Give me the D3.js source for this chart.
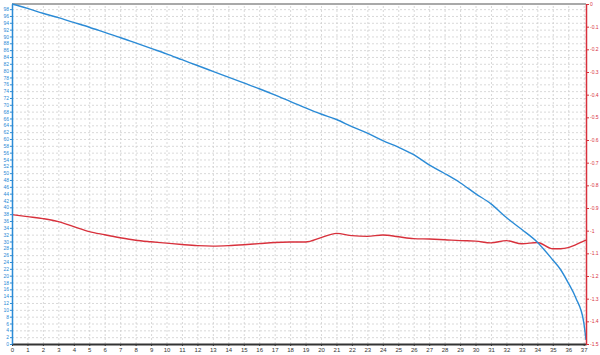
<!DOCTYPE html>
<html>
<head>
<meta charset="utf-8">
<script src="https://cdn.jsdelivr.net/npm/d3@7"></script>
<style>
  body { margin: 0; background: #fff; }
  svg { display: block; font-family: "DejaVu Sans", sans-serif; }
  .grid line { stroke: #cfcfcf; stroke-dasharray: 2,2; stroke-width: 0.8; }
  .grid path { display: none; }
</style>
</head>
<body>
<div id="chart-area"></div>
<script>
// Data
const xs = [0, 1, 2, 3, 4, 5, 6, 7, 8, 9, 10, 11, 12, 13, 14, 15, 16, 17, 18, 19,
  20, 21, 22, 23, 24, 25, 26, 27, 28, 29, 30, 31, 32, 33, 34, 35, 35.5, 36, 36.5, 37, 37.15];

const blueValues = [99.5, 98.2, 96.8, 95.5, 94.1, 92.7, 91.2, 89.7, 88.1, 86.5,
  84.9, 83.2, 81.5, 79.8, 78.1, 76.4, 74.7, 72.9, 71.0, 69.1,
  67.3, 65.7, 63.6, 61.7, 59.5, 57.6, 55.4, 52.4, 49.9, 47.2,
  44.0, 41.0, 37.0, 33.5, 29.8, 24.6, 21.8, 17.9, 13.4, 6.5, 1.2];

const redValues = [-0.929, -0.938, -0.947, -0.960, -0.982, -1.004, -1.018, -1.031, -1.042, -1.049,
  -1.055, -1.061, -1.066, -1.068, -1.066, -1.062, -1.057, -1.052, -1.050, -1.050,
  -1.031, -1.012, -1.022, -1.025, -1.019, -1.027, -1.035, -1.037, -1.040, -1.044,
  -1.046, -1.054, -1.044, -1.058, -1.052, -1.080, -1.080, -1.075, -1.062, -1.046, -1.042];

const xTicks = d3.range(0, 38);
const leftTicks = d3.range(0, 99, 2);
const rightTicks = d3.range(0, 16).map(i => -i / 10);

const margin = { left: 12, right: 14, top: 4, bottom: 11 };
const width = 600 - margin.left - margin.right;
const height = 355 - margin.top - margin.bottom;

const svg = d3.select('#chart-area')
  .append('svg')
    .attr('width', 600)
    .attr('height', 355);

const area = svg.append('g')
  .attr('transform', 'translate(' + margin.left + ',' + margin.top + ')');

const blueColor = '#2b8bd6';
const redColor = '#d8313c';

// Scales
const x = d3.scaleLinear()
  .domain([0, 37.15])
  .range([0, width]);

const yLeft = d3.scaleLinear()
  .domain([0, 99.5])
  .range([height, 0]);

const yRight = d3.scaleLinear()
  .domain([-1.5, 0])
  .range([height, 0]);

// Grid
area.append('g')
  .attr('class', 'grid')
  .attr('transform', 'translate(0,' + height + ')')
  .call(d3.axisBottom(x).tickValues(xTicks.slice(1)).tickSize(-height).tickFormat(''));

area.append('g')
  .attr('class', 'grid')
  .call(d3.axisLeft(yLeft).tickValues(leftTicks.slice(1)).tickSize(-width).tickFormat(''));

// Top border
area.append('line')
  .attr('x1', 0).attr('x2', width)
  .attr('y1', 0).attr('y2', 0)
  .attr('stroke', '#555')
  .attr('stroke-width', 1.2);

// Lines
const blueLine = d3.line()
  .x((d, i) => x(xs[i]))
  .y(d => yLeft(d))
  .curve(d3.curveMonotoneX);

const redLine = d3.line()
  .x((d, i) => x(xs[i]))
  .y(d => yRight(d))
  .curve(d3.curveMonotoneX);

area.append('path')
  .datum(redValues)
  .attr('fill', 'none')
  .attr('stroke', redColor)
  .attr('stroke-width', 1.4)
  .attr('d', redLine);

area.append('path')
  .datum(blueValues)
  .attr('fill', 'none')
  .attr('stroke', blueColor)
  .attr('stroke-width', 1.4)
  .attr('d', blueLine);

// X Axis
const xAxis = area.append('g')
  .attr('transform', 'translate(0,' + height + ')')
  .call(d3.axisBottom(x).tickValues(xTicks).tickSize(2).tickSizeOuter(0).tickPadding(2));
xAxis.select('.domain').attr('stroke', '#333').attr('stroke-width', 2);
xAxis.selectAll('.tick line').attr('stroke', '#333');
xAxis.selectAll('text').attr('font-size', '6px').attr('fill', '#333');

// Left Axis
const leftAxis = area.append('g')
  .call(d3.axisLeft(yLeft).tickValues(leftTicks).tickSize(2).tickSizeOuter(0).tickPadding(1));
leftAxis.select('.domain').attr('stroke', blueColor).attr('stroke-width', 1.5);
leftAxis.selectAll('.tick line').attr('stroke', blueColor);
leftAxis.selectAll('text').attr('font-size', '5px').attr('fill', blueColor);

// Right Axis
const rightAxis = area.append('g')
  .attr('transform', 'translate(' + width + ',0)')
  .call(d3.axisRight(yRight).tickValues(rightTicks).tickSize(3).tickSizeOuter(0).tickPadding(1)
    .tickFormat(d => d === 0 ? '0' : d3.format('.1f')(d).replace('−', '-').replace(/\.0$/, '')));
rightAxis.select('.domain').attr('stroke', redColor).attr('stroke-width', 1.5);
rightAxis.selectAll('.tick line').attr('stroke', redColor);
rightAxis.selectAll('text').attr('font-size', '5px').attr('fill', redColor);
</script>
</body>
</html>
